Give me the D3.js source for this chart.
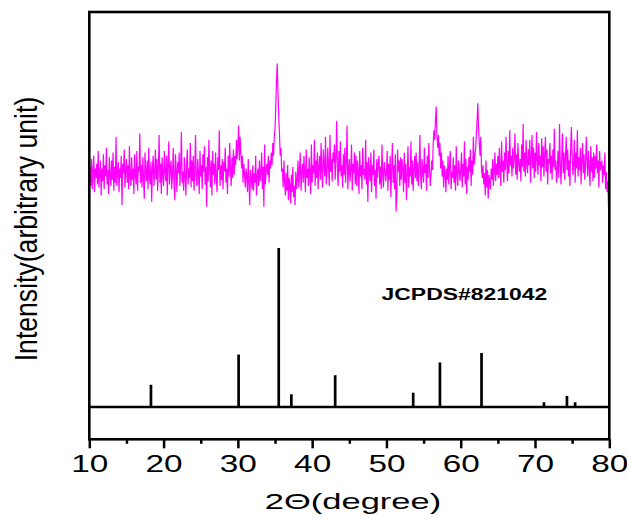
<!DOCTYPE html>
<html>
<head>
<meta charset="utf-8">
<script src="https://cdn.jsdelivr.net/npm/d3@7"></script>
<style>
  html, body { margin: 0; padding: 0; background: #fff; }
  svg { display: block; }
  text { font-family: Arial, "Liberation Sans", sans-serif; fill: #000; }
</style>
</head>
<body>
<svg id="chart"></svg>
<script>
// measured pattern: 2theta from 10 to 80, step 0.1
const scanStart = 10;
const scanStep = 0.1;
const scanIntensity = [
  142,151,139,156,137,149,158,135,150,144,
  153,140,161,138,147,155,133,150,142,159,
  137,152,145,163,140,149,134,157,146,139,
  155,143,160,136,151,141,170,139,148,154,
  135,150,144,158,127,153,147,162,138,149,
  156,141,152,137,164,145,139,157,143,150,
  134,159,146,140,161,136,151,148,172,141,
  152,138,157,144,131,160,149,142,155,137,
  163,145,140,154,129,151,158,139,147,162,
  143,156,136,150,171,141,153,134,157,146,
  139,161,148,142,158,133,152,167,140,150,
  155,137,146,163,144,130,159,149,135,154,
  147,160,139,152,173,141,148,136,157,145,
  133,153,162,140,150,144,166,138,155,142,
  158,136,149,171,143,139,156,147,134,161,
  145,152,137,159,148,164,140,151,126,157,
  142,168,150,138,155,133,161,146,153,140,
  160,144,135,157,149,174,139,152,143,156,
  137,154,148,163,141,150,134,158,145,166,
  150,139,157,144,162,146,158,152,168,156,
  164,177,155,170,160,150,158,141,153,146,
  138,150,144,135,156,141,127,149,145,137,
  152,136,147,141,158,133,145,150,139,155,
  142,148,160,137,151,126,165,140,149,153,
  146,158,141,155,150,160,152,166,158,170,
  175,188,205,216,198,183,172,158,163,148,
  150,138,155,141,133,147,136,152,130,144,
  140,128,146,135,151,132,139,127,148,137,
  143,155,138,149,160,136,147,153,141,158,
  146,135,162,144,150,139,157,148,134,165,
  141,152,147,168,139,155,144,160,137,151,
  158,143,166,149,138,162,153,145,170,140,
  147,163,152,139,171,148,156,142,160,154,
  165,143,157,180,150,139,161,148,167,145,
  152,138,159,146,163,141,155,177,137,149,
  156,142,150,165,136,153,147,160,140,158,
  139,155,148,134,161,145,152,137,163,146,
  150,143,168,140,154,129,157,148,142,160,
  135,152,146,162,139,149,131,156,144,153,
  158,140,151,137,165,146,138,154,149,142,
  147,161,136,153,143,158,132,150,166,141,
  152,137,159,123,134,162,148,155,139,157,
  143,156,149,135,160,141,153,130,147,164,
  138,151,145,167,140,155,136,149,158,144,
  160,142,154,139,150,171,145,137,156,148,
  141,163,147,153,136,158,144,166,150,139,
  146,155,149,166,174,168,181,189,170,163,
  171,158,166,150,160,145,155,138,152,147,
  135,150,143,158,140,153,161,137,148,144,
  157,141,152,136,164,146,139,155,150,142,
  149,160,138,153,145,167,140,156,134,151,
  143,157,148,162,139,155,146,170,152,158,
  162,171,180,191,176,166,158,170,150,144,
  152,140,147,133,155,138,149,131,146,141,
  137,150,143,156,139,148,160,142,153,146,
  158,144,163,150,139,167,148,155,141,160,
  149,170,153,142,161,147,174,152,158,145,
  163,150,157,172,146,159,143,166,154,148,
  156,142,165,151,178,148,160,145,168,153,
  147,162,152,168,141,157,171,150,163,144,
  160,148,173,155,146,166,152,158,142,169,
  151,164,145,159,170,148,162,140,156,153,
  166,147,158,143,162,151,175,149,155,141,
  150,161,144,178,153,140,158,172,147,160,
  143,157,170,149,162,145,155,139,164,176,
  158,146,153,168,141,160,150,174,145,157,
  149,163,140,155,166,147,159,143,152,170,
  156,145,161,150,139,164,148,157,142,160,
  144,158,150,165,147,155,138,161,149,153,
  155,141,152,146,160,137,148,135,142,125,
  128
];

// reference card JCPDS#821042
const refPositions = [18.3, 30.1, 35.5, 37.2, 43.1, 53.6, 57.2, 62.8, 71.2, 74.3, 75.4];
const refIntensity = [14, 33, 100, 8, 20, 9, 28, 34, 3, 7, 3];

const majorTicks = [10, 20, 30, 40, 50, 60, 70, 80];
const minorTicks = [15, 25, 35, 45, 55, 65, 75];

const w = 627;
const h = 523;
const padLeft = 89.3, padRight = 609.3, padTop = 12, padBottom = 439.3;

const svg = d3.select('#chart').attr('width', w).attr('height', h);

const x = d3.scaleLinear().domain([10, 80]).range([padLeft, padRight]);
const y = d3.scaleLinear().domain([-20.3, 248.4]).range([padBottom, padTop]);

const scan = scanIntensity.map((v, i) => [scanStart + i * scanStep, v]);

svg.append('path')
  .datum(scan)
  .attr('fill', 'none')
  .attr('stroke', '#ff00ff')
  .attr('stroke-width', 1.2)
  .attr('d', d3.line().x(d => x(d[0])).y(d => y(d[1])));

// reference baseline + sticks
svg.append('line')
  .attr('x1', padLeft).attr('x2', padRight)
  .attr('y1', y(0)).attr('y2', y(0))
  .attr('stroke', '#000').attr('stroke-width', 2.5);

svg.selectAll('line.stick')
  .data(refPositions)
  .enter()
  .append('line')
  .attr('class', 'stick')
  .attr('x1', d => x(d)).attr('x2', d => x(d))
  .attr('y1', y(0))
  .attr('y2', (d, i) => y(refIntensity[i]))
  .attr('stroke', '#000')
  .attr('stroke-width', 2.7);

svg.append('text')
  .attr('transform', 'translate(381.5,300) scale(1.35,1)')
  .attr('font-size', 17)
  .attr('font-weight', 'bold')
  .text('JCPDS#821042');

// frame
svg.append('rect')
  .attr('x', padLeft).attr('y', padTop)
  .attr('width', padRight - padLeft).attr('height', padBottom - padTop)
  .attr('fill', 'none')
  .attr('stroke', '#000')
  .attr('stroke-width', 2.6);

// x axis
const xAxis = d3.axisBottom(x).tickValues(majorTicks).tickSize(9).tickSizeOuter(0).tickFormat(d3.format('d'));
const gx = svg.append('g').attr('transform', 'translate(0,' + padBottom + ')').call(xAxis);
gx.select('.domain').remove();
gx.selectAll('.tick line').attr('stroke', '#000').attr('stroke-width', 2.5);
gx.selectAll('.tick text')
  .attr('y', null).attr('dy', null)
  .attr('transform', 'translate(0,32.3) scale(1.45,1)')
  .attr('font-size', 23)
  .attr('font-family', 'Arial, "Liberation Sans", sans-serif')
  .attr('fill', '#000');

const xMinor = d3.axisBottom(x).tickValues(minorTicks).tickSize(4.5).tickSizeOuter(0).tickFormat('');
const gm = svg.append('g').attr('transform', 'translate(0,' + padBottom + ')').call(xMinor);
gm.select('.domain').remove();
gm.selectAll('.tick line').attr('stroke', '#000').attr('stroke-width', 2.5);

// axis titles
svg.append('text')
  .attr('transform', 'translate(353,509.3) scale(1.5,1)')
  .attr('text-anchor', 'middle')
  .attr('font-size', 23)
  .text('2\u0398(degree)');

svg.append('text')
  .attr('transform', 'translate(37,229) scale(1.2,1) rotate(-90)')
  .attr('text-anchor', 'middle')
  .attr('font-size', 26.6)
  .text('Intensity(arbitrary unit)');
</script>
</body>
</html>
